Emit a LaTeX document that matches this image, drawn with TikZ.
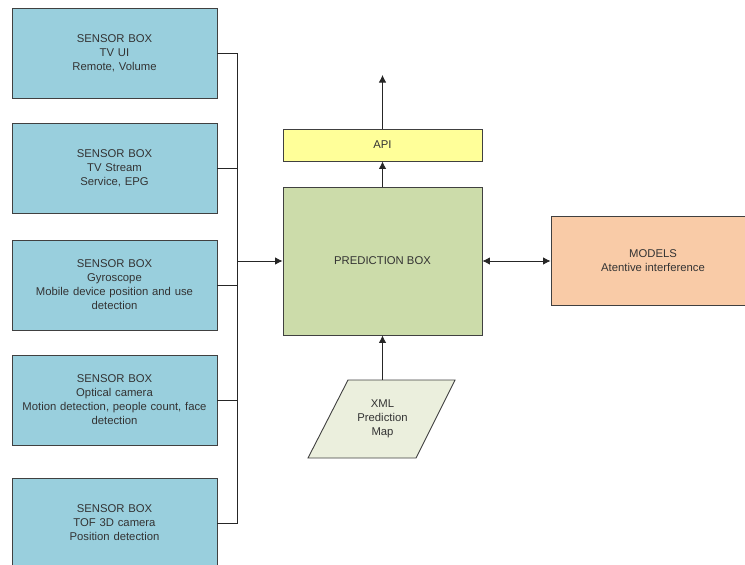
\documentclass[tikz,border=0pt]{standalone}
\usepackage{fontspec}
\setmainfont{Liberation Sans}
\usetikzlibrary{arrows.meta}
\definecolor{sensorfill}{HTML}{99CFDD}
\definecolor{predfill}{HTML}{CCDCAA}
\definecolor{apifill}{HTML}{FFFF99}
\definecolor{modelfill}{HTML}{F9CBA7}
\definecolor{xmlfill}{HTML}{EBEFDD}
\definecolor{edge}{HTML}{404040}
\definecolor{txt}{HTML}{333333}
\begin{document}
\begin{tikzpicture}[x=1pt,y=-1pt,
  every node/.style={font=\fontsize{11.3}{14}\selectfont, text=txt, align=center},
  box/.style={draw=edge, line width=0.9pt, inner sep=2pt},
  sensor/.style={box, fill=sensorfill, minimum width=205pt, minimum height=90pt, text width=198pt},
  conn/.style={draw=black!85, line width=0.8pt},
  tip/.style={Latex[length=7.5pt,width=7.5pt]},
  arr/.style={conn, -{Latex[length=7.5pt,width=7.5pt]}},
  darr/.style={conn, {Latex[length=7.5pt,width=7.5pt]}-{Latex[length=7.5pt,width=7.5pt]}}]
\useasboundingbox (0,0) rectangle (745,565);
\clip (0,0) rectangle (745,565);
% sensor boxes
\node[sensor] (s1) at (114.5,53) {SENSOR BOX\\TV UI\\Remote, Volume};
\node[sensor] (s2) at (114.5,168.5) {SENSOR BOX\\TV Stream\\Service, EPG};
\node[sensor] (s3) at (114.5,285) {SENSOR BOX\\Gyroscope\\Mobile device position and use\\detection};
\node[sensor] (s4) at (114.5,400) {SENSOR BOX\\Optical camera\\Motion detection, people count, face\\detection};
\node[sensor] (s5) at (114.5,523) {SENSOR BOX\\TOF 3D camera\\Position detection};
% central boxes
\node[box, fill=predfill, minimum width=199pt, minimum height=148pt] (pred) at (382.5,261) {PREDICTION BOX};
\node[box, fill=apifill, minimum width=199pt, minimum height=32pt] (api) at (382.5,145) {API};
\node[box, fill=modelfill, minimum width=204pt, minimum height=89pt] (models) at (653,261) {MODELS\\Atentive interference};
% XML parallelogram
\coordinate (xa) at (308,458);
\coordinate (xb) at (416,458);
\coordinate (xc) at (455,380);
\coordinate (xd) at (348,380);
\filldraw[draw=edge, fill=xmlfill, line width=0.9pt] (xa) -- (xb) -- (xc) -- (xd) -- cycle;
\node[minimum height=78pt, inner sep=0pt] (xml) at (382.5,419) {XML\\Prediction\\Map};
% bus
\coordinate (bt) at (237,53);
\coordinate (bb) at (237,523);
\coordinate (out) at (382.5,75);
\draw[conn] (s1.east) -- (bt) -- (bb) -- (s5.east);
\draw[conn] (s2.east) -- (s2.east -| bt);
\draw[conn] (s3.east) -- (s3.east -| bt);
\draw[conn] (s4.east) -- (s4.east -| bt);
\draw[arr] (pred.west -| bt) -- (pred.west);
\draw[arr] (pred.north) -- (api.south);
\draw[arr] (api.north) -- (out);
\draw[arr] (xml.north) -- (pred.south);
\draw[darr] (pred.east) -- (models.west);
\end{tikzpicture}
\end{document}
